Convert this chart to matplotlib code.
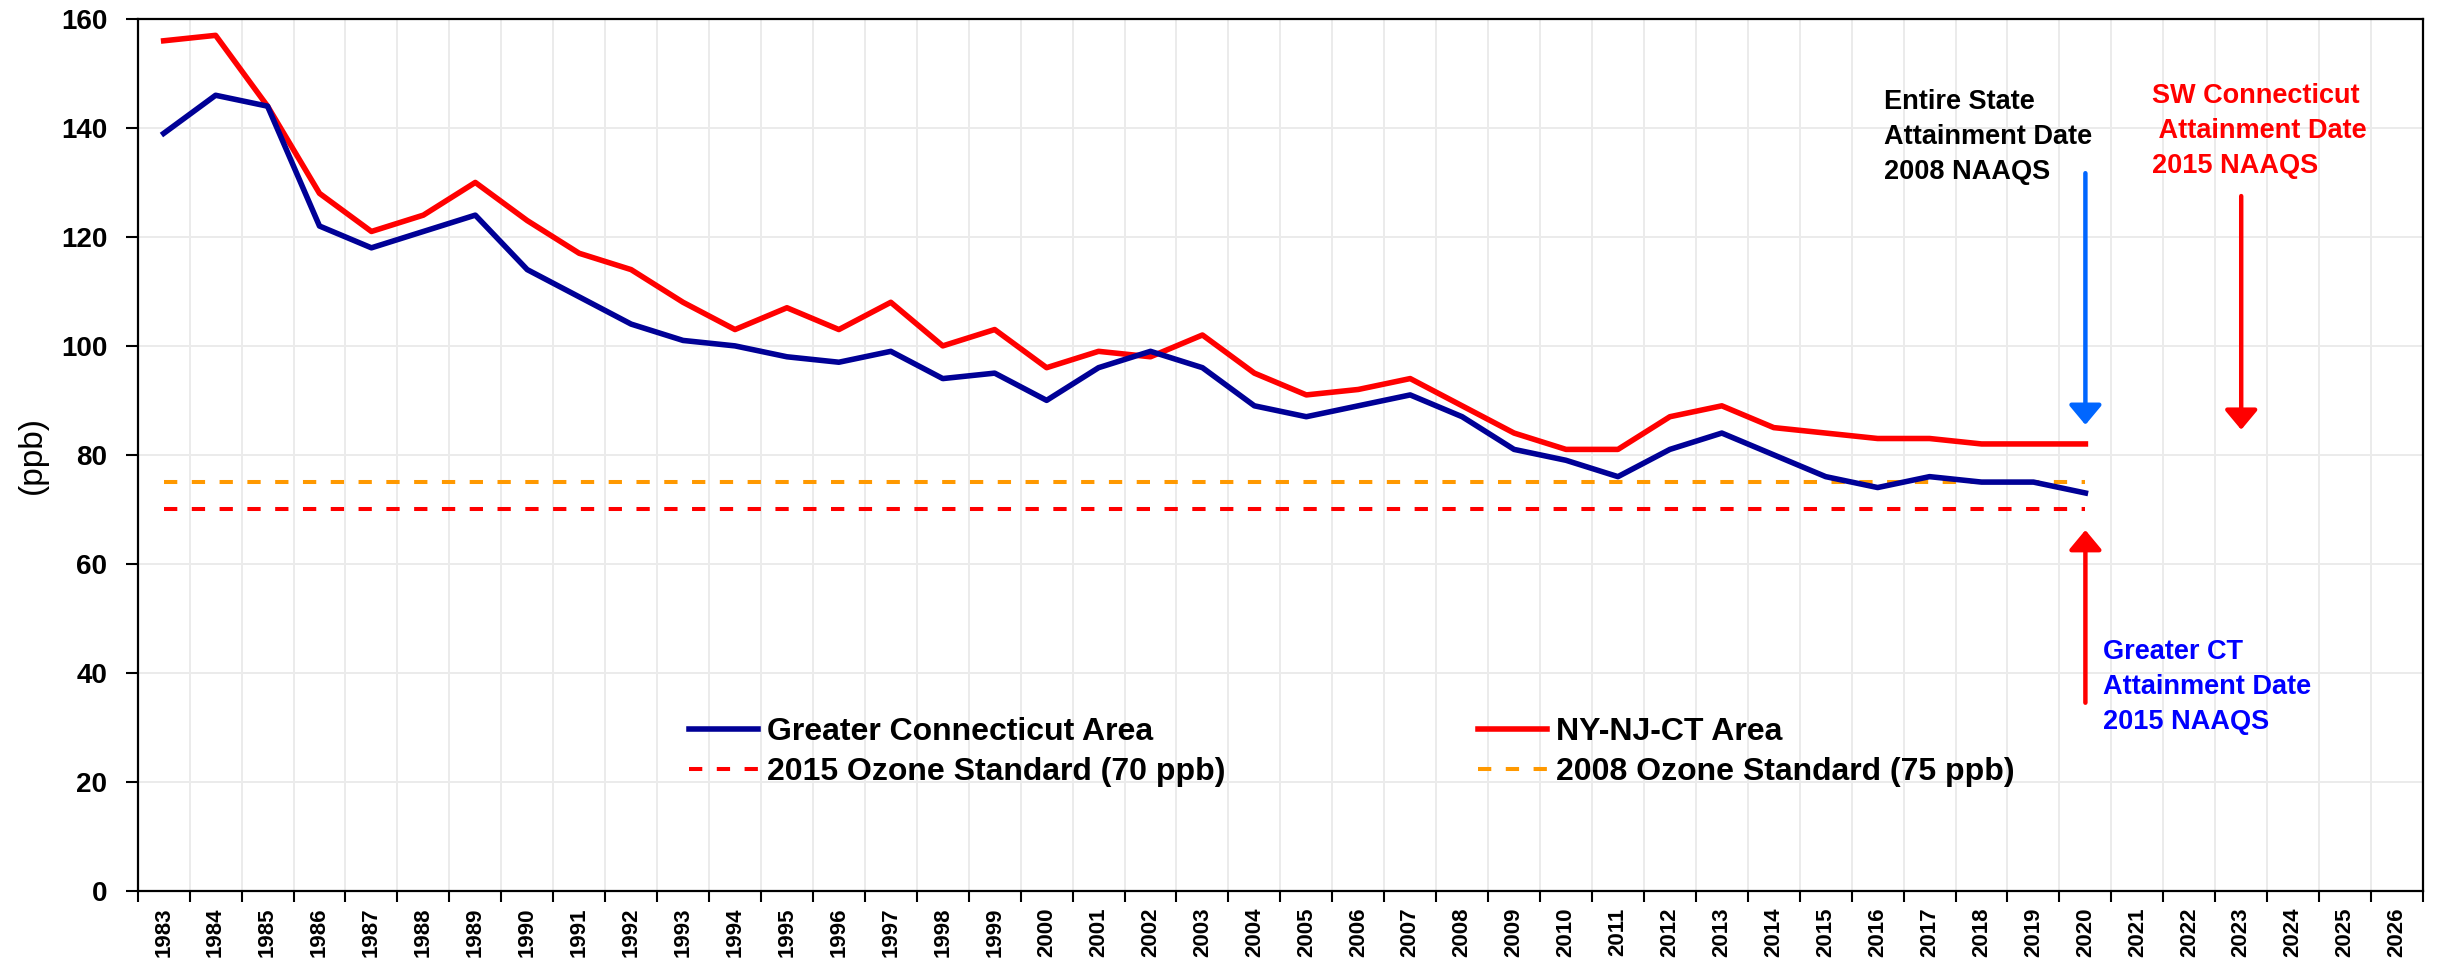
import numpy as np
import matplotlib
matplotlib.use("Agg")
import matplotlib.pyplot as plt

plt.rcParams['font.family'] = ['Liberation Sans', 'DejaVu Sans']

# Category axis: one slot per year
years = [str(y) for y in range(1983, 2027)]
data_years = [str(y) for y in range(1983, 2021)]

# Design values (ppb)
greater_ct = [139, 146, 144, 122, 118, 121, 124, 114, 109, 104,
              101, 100, 98, 97, 99, 94, 95, 90, 96, 99,
              96, 89, 87, 89, 91, 87, 81, 79, 76, 81,
              84, 80, 76, 74, 76, 75, 75, 73]
ny_nj_ct = [156, 157, 144, 128, 121, 124, 130, 123, 117, 114,
            108, 103, 107, 103, 108, 100, 103, 96, 99, 98,
            102, 95, 91, 92, 94, 89, 84, 81, 81, 87,
            89, 85, 84, 83, 83, 82, 82, 82]
std_2015 = 70
std_2008 = 75

# Attainment date annotations: (year, tail value, tip value)
arrow_2008_state = ('2020', 131.7, 85.5)
arrow_2015_sw = ('2023', 127.5, 84.6)
arrow_2015_greater = ('2020', 34.5, 66.2)

W, H = 2440, 966
fig = plt.figure(figsize=(W / 100, H / 100), dpi=100)
ax = fig.add_axes([137.7 / W, 1 - 890.7 / H, (2423 - 137.7) / W, (890.7 - 19) / H])

idx = {y: i for i, y in enumerate(years)}
x_data = np.array([idx[y] for y in data_years])

# standards first so the series sit on top
ax.plot(x_data, [std_2015] * len(x_data), color='#FF0000', lw=2.9,
        dashes=(3.3, 3.6), label='2015 Ozone Standard (70 ppb)', zorder=3)
ax.plot(x_data, [std_2008] * len(x_data), color='#FF9900', lw=2.9,
        dashes=(3.3, 3.6), label='2008 Ozone Standard (75 ppb)', zorder=3)
ax.plot(x_data, ny_nj_ct, color='#FF0000', lw=4, label='NY-NJ-CT Area', zorder=4)
ax.plot(x_data, greater_ct, color='#000096', lw=4, label='Greater Connecticut Area', zorder=5)

# axes / grid
ax.set_xlim(-0.5, len(years) - 0.5)
ax.set_ylim(0, 160)
ax.set_yticks(np.arange(0, 161, 20))
ax.set_xticks(np.arange(len(years) + 1) - 0.5)
ax.set_xticklabels([])
ax.set_xticks(np.arange(len(years)), minor=True)
ax.set_xticklabels(years, minor=True, rotation=90, fontsize=16, fontweight='bold')
ax.tick_params(axis='x', which='major', length=8, width=1.5, direction='out')
ax.tick_params(axis='x', which='minor', length=0, pad=12)
ax.tick_params(axis='y', length=9, width=1.5, pad=13)
for lbl in ax.get_yticklabels():
    lbl.set_fontsize(20)
    lbl.set_fontweight('bold')
ax.grid(True, which='major', color='#EBEBEB', lw=1.4, zorder=0)
ax.set_axisbelow(True)
for s in ax.spines.values():
    s.set_linewidth(1.6)
    s.set_color('black')

fig.text(32 / W, 1 - 455 / H, '(ppb)', rotation=90, fontsize=24,
         ha='center', va='center')

# arrows
arrow_kw = dict(arrowstyle='-|>,head_width=0.5,head_length=0.6',
                mutation_scale=20, shrinkA=0, shrinkB=0, lw=3.2)
for (yr, tail, tip), col in [(arrow_2008_state, '#0066FF'),
                             (arrow_2015_sw, '#FF0000'),
                             (arrow_2015_greater, '#FF0000')]:
    ax.annotate('', xy=(idx[yr], tip), xytext=(idx[yr], tail),
                arrowprops=dict(color=col, **arrow_kw), zorder=6)

txt_kw = dict(fontsize=19.5, fontweight='bold', ha='left', va='top', linespacing=1.45)
fig.text(1884 / W, 1 - 89 / H, 'Entire State\nAttainment Date\n2008 NAAQS',
         color='black', **txt_kw)
fig.text(2152 / W, 1 - 83 / H, 'SW Connecticut\n Attainment Date\n2015 NAAQS',
         color='#FF0000', **txt_kw)
fig.text(2103 / W, 1 - 639 / H, 'Greater CT\nAttainment Date\n2015 NAAQS',
         color='#0000FF', **txt_kw)

# legend (column-wise fill: blue, red dashed | red, orange dashed)
h, l = ax.get_legend_handles_labels()
order = [3, 0, 2, 1]
leg = fig.legend([h[i] for i in order], [l[i] for i in order], ncol=2,
                 loc='center left', bbox_to_anchor=(689 / W, 1 - 752 / H),
                 frameon=False, borderpad=0, borderaxespad=0,
                 handlelength=2.15, handletextpad=0.3, columnspacing=7.9,
                 labelspacing=0.3, prop={'size': 23, 'weight': 'bold'})

fig.savefig('out.png', dpi=100)
